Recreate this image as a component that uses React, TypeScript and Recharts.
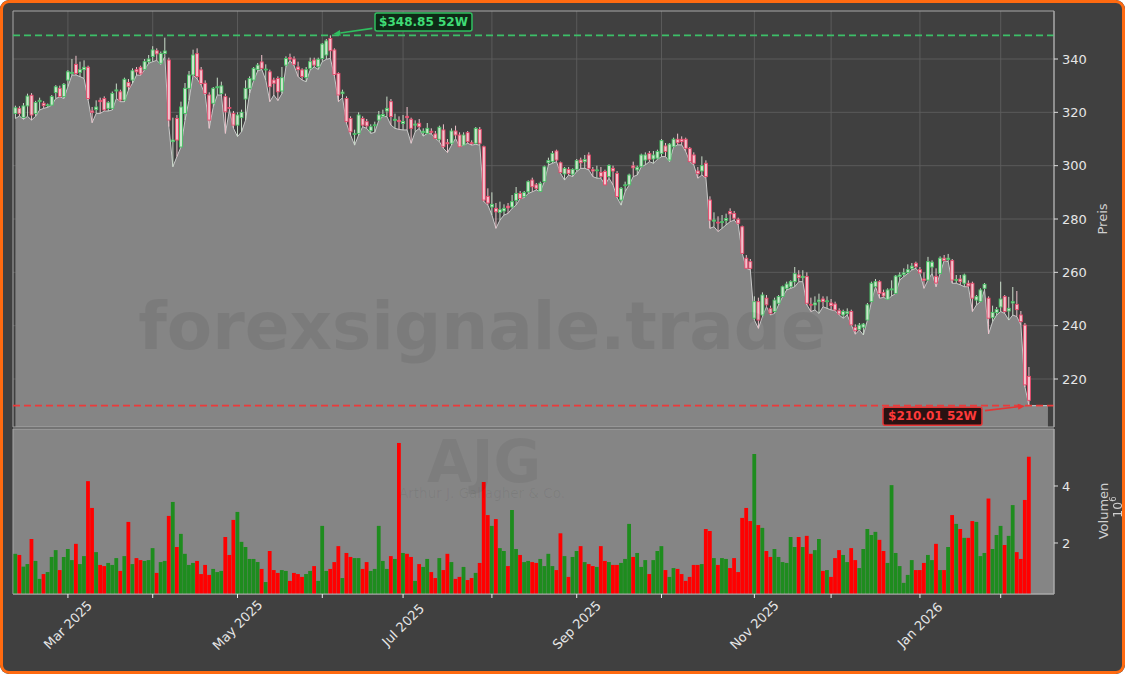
import React from 'react';
import {
  ComposedChart, Area, Bar, Cell, XAxis, YAxis, CartesianGrid,
  ReferenceLine, ReferenceDot, ReferenceArea,
} from 'recharts';

const FONT = '"DejaVu Sans", sans-serif';

// daily OHLC, trading-day index 0..251
const opens = [
  319.6, 321.5, 318.1, 322.4, 326.4, 319.6, 324.0, 323.4, 322.5, 322.7,
  327.4, 329.0, 325.9, 332.1, 334.6, 338.0, 335.0, 336.0, 336.9, 320.5,
  321.0, 324.5, 325.2, 321.5, 321.5, 328.0, 327.7, 324.6, 331.2, 332.1,
  336.0, 336.9, 336.1, 339.0, 340.9, 343.1, 338.4, 342.1, 339.6, 309.0,
  317.7, 307.0, 319.6, 329.0, 334.0, 342.0, 335.9, 330.9, 326.5, 323.4,
  329.2, 327.1, 325.9, 321.8, 319.6, 315.2, 318.0, 325.0, 329.0, 332.1,
  336.1, 338.9, 336.0, 335.2, 332.1, 332.7, 328.0, 337.7, 340.5, 340.0,
  337.0, 335.9, 333.0, 336.5, 339.6, 337.1, 340.2, 341.5, 347.7, 343.4,
  334.6, 327.0, 325.2, 317.7, 311.8, 312.1, 317.7, 316.5, 313.1, 315.0,
  317.1, 318.5, 320.5, 324.0, 317.0, 317.0, 315.8, 318.5, 317.4, 315.2,
  315.9, 312.4, 312.1, 312.9, 311.9, 309.9, 313.4, 308.6, 308.4, 313.0,
  311.5, 307.7, 312.4, 308.6, 308.4, 313.6, 307.1, 288.5, 284.5, 284.0,
  282.5, 283.0, 284.8, 284.5, 287.0, 289.6, 288.4, 290.2, 294.6, 292.8,
  290.3, 294.0, 301.1, 301.5, 305.5, 301.1, 296.9, 298.6, 296.8, 298.6,
  302.1, 301.5, 304.0, 298.5, 298.2, 297.5, 297.8, 295.9, 299.0, 297.1,
  287.1, 292.5, 292.8, 299.9, 298.4, 299.6, 302.1, 304.6, 302.5, 302.8,
  304.6, 307.4, 302.1, 307.1, 309.9, 309.9, 309.9, 306.5, 304.0, 298.0,
  298.0, 300.9, 287.1, 279.2, 278.8, 278.8, 279.5, 282.8, 282.1, 279.9,
  277.1, 265.3, 264.0, 242.8, 249.0, 244.0, 250.3, 246.5, 245.3, 248.4,
  250.9, 254.0, 254.6, 256.5, 259.0, 258.0, 258.4, 248.0, 247.8, 249.0,
  250.0, 249.0, 248.5, 248.1, 245.6, 244.0, 244.6, 245.3, 239.4, 238.6,
  239.4, 242.1, 249.0, 254.6, 256.5, 252.4, 249.9, 253.4, 252.1, 258.4,
  259.2, 260.0, 261.5, 263.4, 261.0, 257.5, 257.1, 262.0, 258.5, 259.6,
  265.3, 264.8, 264.4, 257.0, 257.5, 255.9, 255.9, 255.9, 249.6, 249.0,
  254.0, 250.3, 243.0, 244.9, 247.0, 250.9, 245.5, 248.5, 248.0, 244.0,
  240.2, 221.0,
];

const highs = [
  322.5, 322.3, 323.5, 327.0, 327.2, 324.3, 325.5, 324.2, 323.3, 326.5,
  330.2, 330.0, 331.0, 335.8, 340.0, 341.2, 339.0, 339.5, 337.5, 322.0,
  324.5, 325.5, 326.0, 324.2, 327.8, 330.8, 328.5, 333.0, 332.5, 336.5,
  337.0, 337.5, 340.0, 341.5, 344.8, 344.0, 342.8, 348.0, 340.5, 318.0,
  319.0, 324.0, 331.0, 335.5, 343.5, 344.0, 337.0, 332.0, 327.5, 329.5,
  333.0, 331.5, 327.0, 325.5, 320.5, 320.0, 321.0, 332.0, 333.5, 337.0,
  338.5, 341.5, 338.0, 336.0, 333.0, 333.5, 337.0, 341.0, 342.0, 341.0,
  339.0, 336.5, 337.0, 340.5, 340.5, 340.5, 346.0, 347.5, 348.85, 344.0,
  335.0, 328.5, 326.0, 318.5, 313.5, 320.0, 318.5, 317.5, 315.5, 316.5,
  320.5, 321.0, 325.9, 325.0, 319.5, 318.5, 319.0, 322.0, 318.0, 317.0,
  317.5, 314.0, 316.0, 314.0, 313.0, 315.0, 315.5, 310.0, 314.0, 315.0,
  312.5, 312.5, 313.0, 309.5, 314.5, 314.5, 307.5, 291.5, 290.0, 286.0,
  286.5, 285.5, 286.0, 289.0, 292.0, 290.5, 290.5, 294.5, 295.5, 293.5,
  294.0, 300.0, 303.0, 305.5, 306.0, 301.5, 299.5, 299.5, 299.0, 302.5,
  303.0, 304.0, 305.0, 299.5, 300.0, 299.5, 298.5, 300.5, 300.0, 298.0,
  292.0, 294.0, 297.0, 301.5, 300.0, 304.5, 305.0, 305.5, 305.5, 306.0,
  310.0, 308.5, 308.5, 310.5, 312.0, 311.0, 310.5, 307.0, 305.0, 299.5,
  303.5, 302.0, 288.5, 282.5, 281.0, 281.5, 282.0, 284.0, 283.0, 280.5,
  277.5, 266.5, 265.0, 251.0, 250.5, 252.5, 251.5, 247.5, 250.5, 251.5,
  255.0, 256.5, 257.0, 262.0, 260.8, 260.8, 260.0, 250.5, 251.0, 252.0,
  251.0, 251.0, 250.0, 249.0, 246.5, 246.0, 246.5, 246.0, 240.5, 241.0,
  241.0, 248.5, 256.5, 257.5, 257.0, 253.5, 254.0, 257.0, 259.0, 260.0,
  261.5, 263.0, 263.5, 264.0, 262.0, 260.0, 265.8, 264.5, 261.5, 266.0,
  266.5, 266.9, 265.0, 259.0, 259.0, 259.5, 257.0, 256.5, 251.5, 254.0,
  256.0, 251.0, 247.5, 247.0, 256.5, 251.5, 250.8, 254.5, 253.0, 245.5,
  241.0, 224.5,
];

const lows = [
  317.7, 318.6, 317.4, 318.5, 317.1, 318.5, 320.9, 321.5, 321.9, 322.7,
  325.2, 325.8, 325.2, 329.6, 334.0, 334.0, 333.4, 332.7, 324.6, 316.1,
  319.6, 319.6, 320.5, 320.5, 320.9, 325.2, 324.0, 324.0, 328.4, 330.9,
  334.0, 333.9, 336.0, 338.4, 339.0, 339.5, 338.0, 340.9, 314.6, 299.6,
  303.4, 307.0, 317.1, 324.6, 334.0, 332.5, 330.2, 326.5, 314.0, 322.1,
  326.5, 326.5, 312.1, 320.9, 314.0, 310.9, 312.7, 317.1, 327.1, 332.0,
  335.5, 336.1, 332.1, 324.0, 326.5, 324.4, 327.0, 337.1, 339.4, 337.5,
  333.4, 332.1, 331.5, 335.9, 337.0, 336.1, 339.0, 339.9, 340.2, 333.5,
  324.0, 325.5, 315.8, 311.5, 307.7, 311.5, 314.6, 314.0, 312.1, 312.5,
  317.1, 318.4, 318.4, 315.2, 314.0, 313.6, 313.4, 313.4, 308.4, 312.7,
  314.0, 311.1, 312.1, 311.9, 310.2, 309.0, 306.5, 304.9, 307.7, 310.2,
  307.1, 307.7, 308.4, 307.7, 308.0, 307.7, 286.5, 285.2, 281.5, 276.5,
  279.6, 281.5, 282.1, 284.0, 285.2, 287.7, 288.0, 289.6, 290.2, 290.9,
  290.3, 294.0, 300.3, 300.9, 301.5, 297.1, 294.6, 296.5, 295.9, 297.8,
  299.0, 299.0, 298.4, 295.9, 295.3, 295.3, 292.8, 295.3, 292.8, 288.0,
  285.2, 290.3, 292.8, 295.9, 296.5, 299.6, 300.3, 301.5, 300.9, 302.4,
  303.4, 303.4, 301.5, 307.1, 307.8, 307.8, 305.3, 301.5, 300.3, 295.3,
  296.5, 295.3, 276.5, 277.1, 275.3, 276.5, 277.8, 279.0, 279.6, 277.8,
  267.1, 261.5, 260.9, 242.1, 239.0, 243.4, 247.1, 244.0, 244.6, 247.8,
  250.9, 253.4, 254.0, 254.6, 256.5, 256.5, 247.8, 245.3, 245.9, 244.6,
  247.1, 246.5, 245.9, 245.6, 244.0, 242.8, 244.0, 240.3, 236.8, 238.4,
  236.5, 242.1, 249.0, 254.6, 250.3, 250.6, 249.9, 251.1, 252.1, 257.1,
  258.4, 259.6, 260.9, 261.5, 259.6, 254.0, 257.1, 259.6, 254.6, 259.6,
  264.4, 264.0, 255.9, 255.9, 255.3, 254.6, 254.6, 245.3, 247.8, 249.0,
  253.4, 236.9, 241.5, 244.0, 245.3, 244.6, 242.1, 244.0, 243.4, 240.3,
  217.0, 210.01,
];

const closes = [
  321.7, 319.6, 322.4, 326.1, 319.0, 323.7, 324.5, 322.5, 322.8, 325.9,
  329.6, 325.9, 330.5, 335.2, 335.0, 334.6, 336.0, 336.9, 325.2, 320.0,
  322.0, 324.0, 320.9, 323.6, 327.1, 328.4, 324.6, 332.4, 329.6, 335.6,
  335.2, 334.4, 339.0, 340.0, 343.4, 341.9, 342.1, 343.0, 317.1, 309.6,
  309.6, 322.0, 329.0, 334.0, 341.5, 333.4, 330.8, 327.1, 317.1, 329.0,
  329.6, 329.9, 320.2, 321.7, 315.2, 319.0, 320.0, 329.0, 332.7, 336.5,
  337.7, 336.5, 336.2, 329.6, 330.9, 327.7, 333.0, 340.2, 340.0, 338.0,
  336.0, 333.4, 336.0, 339.0, 337.7, 339.9, 345.6, 346.8, 343.1, 334.2,
  326.5, 327.6, 316.5, 312.7, 312.0, 319.0, 315.2, 314.9, 314.6, 315.3,
  319.0, 319.2, 321.5, 318.4, 317.4, 316.5, 316.6, 318.0, 314.0, 315.6,
  314.6, 312.9, 314.0, 312.5, 310.2, 314.4, 307.1, 308.2, 313.0, 311.5,
  307.1, 311.5, 309.0, 308.4, 314.0, 308.4, 287.1, 286.0, 285.5, 282.7,
  283.5, 284.0, 284.2, 286.5, 289.6, 287.7, 289.9, 294.0, 292.1, 291.5,
  293.4, 299.6, 301.9, 304.6, 302.1, 297.4, 299.0, 297.1, 298.6, 301.9,
  301.1, 302.3, 299.0, 298.0, 298.4, 296.0, 292.8, 300.1, 298.0, 288.4,
  291.5, 292.8, 296.5, 299.2, 299.4, 304.0, 304.0, 302.4, 304.0, 305.3,
  309.4, 305.3, 308.1, 309.9, 308.6, 309.0, 306.5, 301.5, 300.9, 297.0,
  300.0, 295.9, 279.6, 279.6, 278.5, 279.0, 280.2, 281.9, 280.3, 278.4,
  267.1, 261.5, 261.5, 249.0, 242.1, 251.5, 247.8, 244.6, 249.6, 250.9,
  254.6, 255.6, 256.5, 259.5, 258.0, 258.5, 248.4, 247.8, 248.5, 249.6,
  249.0, 249.3, 247.5, 245.9, 244.4, 245.3, 245.2, 240.3, 238.1, 240.2,
  240.6, 247.8, 255.9, 256.5, 252.1, 251.1, 253.4, 253.8, 258.6, 259.0,
  259.8, 261.0, 262.3, 262.1, 259.8, 257.0, 264.0, 263.8, 256.0, 265.3,
  264.4, 265.3, 257.1, 257.3, 256.5, 259.0, 254.9, 250.3, 250.9, 253.4,
  255.5, 242.8, 245.0, 246.1, 250.0, 245.3, 246.5, 249.0, 246.0, 241.5,
  217.8, 212.0,
];

// volume in millions
const volumes = [
  1.62, 1.58, 1.17, 1.26, 2.14, 1.37, 0.74, 0.91, 0.98, 1.51,
  1.75, 1.05, 1.51, 1.79, 1.40, 1.97, 1.26, 1.54, 4.17, 3.23,
  1.68, 1.23, 1.19, 1.30, 1.23, 1.47, 1.02, 1.54, 2.74, 1.26,
  1.47, 1.40, 1.37, 1.40, 1.82, 0.95, 1.33, 1.37, 2.95, 3.44,
  1.86, 2.32, 1.62, 1.23, 1.30, 1.37, 0.91, 1.23, 0.88, 1.09,
  0.98, 1.02, 2.21, 1.58, 2.81, 3.09, 2.04, 1.86, 1.44, 1.44,
  1.33, 1.09, 0.63, 1.72, 1.05, 0.95, 1.05, 1.02, 0.67, 0.95,
  0.91, 0.81, 0.91, 1.02, 1.19, 0.67, 2.60, 1.02, 1.09, 1.33,
  1.89, 0.77, 1.65, 1.51, 1.47, 1.47, 1.09, 1.33, 1.02, 1.09,
  2.60, 1.37, 1.09, 1.54, 1.44, 5.51, 1.65, 1.62, 1.51, 0.67,
  1.26, 1.16, 1.44, 0.98, 0.77, 1.47, 1.05, 1.62, 1.33, 0.74,
  0.81, 1.16, 0.70, 0.77, 0.95, 1.30, 4.14, 2.98, 2.60, 2.84,
  1.82, 1.72, 1.19, 3.16, 1.79, 1.58, 1.33, 1.37, 1.33, 1.30,
  1.44, 1.19, 1.62, 1.19, 1.05, 2.34, 1.54, 0.81, 1.51, 1.72,
  1.89, 1.33, 1.26, 1.19, 1.16, 1.89, 1.37, 1.33, 1.23, 1.23,
  1.30, 1.44, 2.67, 1.51, 1.65, 1.16, 1.40, 0.91, 1.40, 1.72,
  1.89, 1.05, 0.81, 1.12, 1.09, 0.91, 0.67, 0.81, 1.23, 1.23,
  1.26, 2.49, 2.42, 1.47, 1.23, 1.47, 1.44, 1.12, 1.47, 0.98,
  2.88, 3.23, 2.77, 5.12, 2.63, 2.53, 1.72, 1.51, 1.79, 1.51,
  1.33, 1.30, 2.21, 1.86, 2.21, 1.86, 2.25, 1.62, 1.75, 2.14,
  1.02, 1.05, 0.81, 1.47, 1.75, 1.58, 1.33, 1.82, 1.40, 1.12,
  1.79, 2.49, 2.28, 2.39, 2.11, 1.72, 1.30, 4.03, 1.65, 1.19,
  0.60, 0.88, 1.40, 1.05, 1.05, 1.30, 1.58, 1.40, 1.97, 1.05,
  1.05, 1.86, 2.98, 2.67, 2.49, 2.18, 2.18, 2.77, 2.74, 1.54,
  1.65, 3.56, 1.79, 2.28, 2.60, 1.93, 2.25, 3.33, 1.68, 1.44,
  3.51, 5.03,
];

// first trading day of each month (index) and its label
const monthTicks = [13, 34, 55, 76, 96, 118, 139, 160, 183, 202, 224, 244];
const monthLabels = ['Mar 2025', '', 'May 2025', '', 'Jul 2025', '', 'Sep 2025', '', 'Nov 2025', '', 'Jan 2026', ''];
const priceTicks = [220, 240, 260, 280, 300, 320, 340];
const volumeTicks = [2, 4];

const high52 = 348.85;
const high52Index = 78;
const low52 = 210.01;
const low52Index = 251;

const xDomain = [-0.6, 257.2];
const priceDomain = [202, 358];
const volumeDomain = [0.21, 6];
const fillEnd = 255.7; // the shaded area runs a little past the last candle

const rows = opens.map((o, i) => ({
  i,
  open: o,
  high: highs[i],
  low: lows[i],
  close: closes[i],
  range: [lows[i], highs[i]],
  vol: volumes[i],
  up: closes[i] >= o,
}));
const priceRows: any[] = [...rows, { i: fillEnd, low: lows[lows.length - 1] }];

const Candle = (props: any) => {
  const { x, y, width, height, payload } = props;
  if (!payload || payload.open == null || height == null) return null;
  const { open, close, high, low, up } = payload;
  const span = high - low || 1;
  const py = (v: number) => y + ((high - v) / span) * height;
  const cx = x + width / 2;
  const top = py(Math.max(open, close));
  const bot = py(Math.min(open, close));
  const bw = 3;
  const edge = up ? '#45c063' : '#e6486a';
  const fill = up ? '#cde6cd' : '#f3c3cd';
  const wick = up ? '#c9dcc9' : '#efc2cb';
  return (
    <g>
      <line x1={cx} x2={cx} y1={y} y2={y + height} stroke={wick} strokeWidth={1} />
      <rect x={cx - bw / 2} y={top} width={bw} height={Math.max(bot - top, 0.8)} fill={fill} stroke={edge} strokeWidth={0.9} />
    </g>
  );
};

const arrow = (x1: number, y1: number, x2: number, y2: number, color: string) => {
  const a = Math.atan2(y2 - y1, x2 - x1);
  const L = 7;
  const w = 3;
  const bx = x2 - L * Math.cos(a);
  const by = y2 - L * Math.sin(a);
  const px = -Math.sin(a) * w;
  const py = Math.cos(a) * w;
  return (
    <g>
      <line x1={x1} y1={y1} x2={bx} y2={by} stroke={color} strokeWidth={1.6} />
      <polygon points={`${x2},${y2} ${bx + px},${by + py} ${bx - px},${by - py}`} fill={color} />
    </g>
  );
};

const HighMarker = ({ cx, cy }: any) => {
  const bx = cx + 44.6;
  const by = cy - 22.4;
  return (
    <g>
      {arrow(cx + 42, cy - 7, cx + 3, cy - 1.5, '#2fbf5f')}
      <rect x={bx} y={by} width={97} height={18} rx={2} fill="#0f2a17" stroke="#2fbf5f" strokeWidth={1.5} />
      <text x={bx + 48.5} y={by + 13.3} textAnchor="middle" fill="#3fdc75" fontSize={12} fontWeight="bold" fontFamily={FONT}>
        {`$${high52.toFixed(2)} 52W`}
      </text>
    </g>
  );
};

const LowMarker = ({ cx, cy }: any) => {
  const bx = cx - 146;
  const by = cy + 1.5;
  return (
    <g>
      {arrow(cx - 44, cy + 5, cx - 4, cy + 0.3, '#e53535')}
      <rect x={bx} y={by} width={99} height={18} rx={2} fill="#2a1212" stroke="#e53535" strokeWidth={1.5} />
      <text x={bx + 49.5} y={by + 13.3} textAnchor="middle" fill="#ff3a3a" fontSize={12} fontWeight="bold" fontFamily={FONT}>
        {`$${low52.toFixed(2)} 52W`}
      </text>
    </g>
  );
};

const MonthTick = ({ x, y, payload }: any) => {
  const label = monthLabels[monthTicks.indexOf(payload.value)];
  if (!label) return null;
  const cy = y + 25;
  return (
    <text x={x} y={cy} dy="0.35em" textAnchor="middle" transform={`rotate(-45 ${x} ${cy})`} fill="#e6e6e6" fontSize={13} fontFamily={FONT}>
      {label}
    </text>
  );
};

const tickStyle = { fill: '#e6e6e6', fontSize: 13, fontFamily: FONT };

export default function App() {
  return (
    <div style={{ position: 'fixed', left: 0, top: 0, width: 1125, height: 674, background: '#404040', borderRadius: 9, overflow: 'hidden' }}>
      <div style={{ position: 'absolute', left: 0, top: 0 }}>
        <ComposedChart width={1125} height={440} data={priceRows} margin={{ top: 11, right: 21, bottom: 13, left: 13 }}>
          <CartesianGrid stroke="#5e5e5e" strokeWidth={0.9} verticalValues={monthTicks} horizontalValues={priceTicks} />
          <XAxis dataKey="i" type="number" domain={xDomain} ticks={monthTicks} allowDataOverflow hide />
          <YAxis
            orientation="right"
            width={50}
            domain={priceDomain}
            ticks={priceTicks}
            allowDataOverflow
            tick={tickStyle}
            tickSize={4}
            tickMargin={4}
            tickLine={{ stroke: '#dddddd' }}
            axisLine={{ stroke: '#a8a8a8' }}
          />
          <Area dataKey="low" type="linear" stroke="#c9c9c9" strokeWidth={1} fill="#858585" fillOpacity={1} baseValue={priceDomain[0]} isAnimationActive={false} dot={false} activeDot={false} />
          <Bar dataKey="range" barSize={4} shape={<Candle />} isAnimationActive={false} />
          <ReferenceLine y={high52} stroke="#3cbf68" strokeWidth={1.7} strokeDasharray="7 4" />
          <ReferenceLine y={low52} stroke="#ec3a3a" strokeWidth={1.7} strokeDasharray="7 4" />
          <ReferenceArea x1={xDomain[0]} x2={xDomain[1]} y1={priceDomain[0]} y2={priceDomain[1]} fill="none" stroke="#a8a8a8" strokeWidth={1} />
          <ReferenceDot x={high52Index} y={high52} shape={<HighMarker />} />
          <ReferenceDot x={low52Index} y={low52} shape={<LowMarker />} />
        </ComposedChart>
      </div>
      <div style={{ position: 'absolute', left: 0, top: 420 }}>
        <ComposedChart width={1125} height={254} data={rows} margin={{ top: 9, right: 21, bottom: 10, left: 13 }}>
          <CartesianGrid fill="#858585" horizontal={false} vertical={false} />
          <XAxis
            dataKey="i"
            type="number"
            domain={xDomain}
            ticks={monthTicks}
            interval={0}
            allowDataOverflow
            height={70}
            tick={<MonthTick />}
            tickSize={4}
            tickLine={{ stroke: '#eeeeee' }}
            axisLine={{ stroke: '#a8a8a8' }}
          />
          <YAxis
            orientation="right"
            width={50}
            domain={volumeDomain}
            ticks={volumeTicks}
            allowDataOverflow
            tick={tickStyle}
            tickSize={4}
            tickMargin={4}
            tickLine={{ stroke: '#dddddd' }}
            axisLine={{ stroke: '#a8a8a8' }}
          />
          <Bar dataKey="vol" barSize={3.8} isAnimationActive={false}>
            {rows.map((r) => (
              <Cell key={r.i} fill={r.up ? '#1e8c1e' : '#ff0000'} />
            ))}
          </Bar>
          <ReferenceArea x1={xDomain[0]} x2={xDomain[1]} y1={volumeDomain[0]} y2={volumeDomain[1]} fill="none" stroke="#a8a8a8" strokeWidth={1} />
        </ComposedChart>
      </div>
      <svg width={1125} height={674} style={{ position: 'absolute', left: 0, top: 0, pointerEvents: 'none' }}>
        <text x={482} y={349} textAnchor="middle" fontSize={66} fontWeight="bold" fontFamily={FONT} fill="#000" fillOpacity={0.07}>forexsignale.trade</text>
        <text x={484} y={482} textAnchor="middle" fontSize={58} fontWeight="bold" fontFamily={FONT} fill="#000" fillOpacity={0.06}>AJG</text>
        <text x={482} y={498} textAnchor="middle" fontSize={13.5} fontFamily={FONT} fill="#000" fillOpacity={0.06}>Arthur J. Gallagher &amp; Co.</text>
        <text transform="translate(1107 219) rotate(-90)" textAnchor="middle" fill="#d0d0d0" fontSize={13} fontFamily={FONT}>Preis</text>
        <text transform="translate(1108 511) rotate(-90)" textAnchor="middle" fill="#d0d0d0" fontSize={13} fontFamily={FONT}>Volumen</text>
        <text transform="translate(1121.5 507) rotate(-90)" textAnchor="middle" fill="#d0d0d0" fontSize={12.5} fontFamily={FONT}>
          10<tspan fontSize={8.5} dy={-5.5}>6</tspan>
        </text>
      </svg>
      <div style={{ position: 'absolute', left: 0, top: 0, width: 1125, height: 674, border: '3px solid #ff6a10', borderRadius: 9, boxSizing: 'border-box', pointerEvents: 'none' }} />
    </div>
  );
}
